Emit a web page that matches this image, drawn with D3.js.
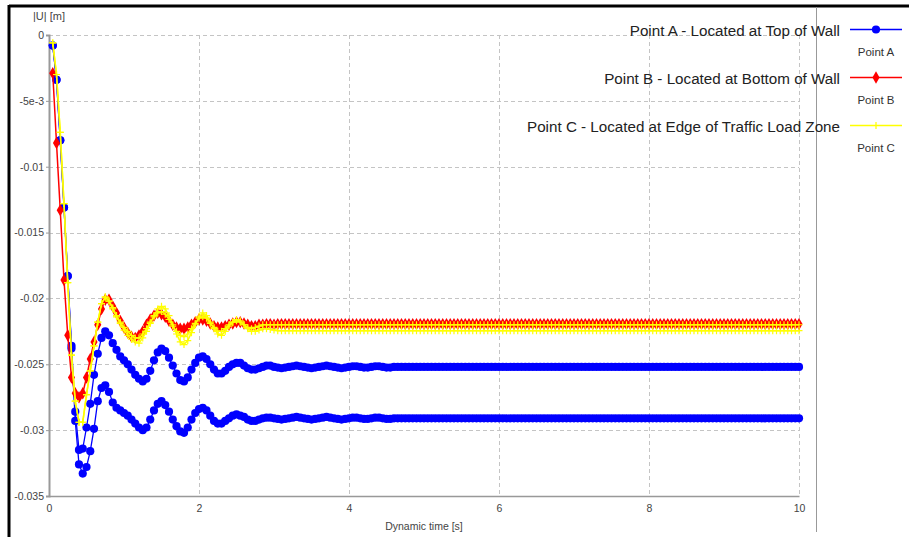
<!DOCTYPE html>
<html>
<head>
<meta charset="utf-8">
<script src="https://cdn.jsdelivr.net/npm/d3@7/dist/d3.min.js"></script>
<style>
  html, body { margin: 0; padding: 0; background: #ffffff; }
  svg { display: block; }
</style>
</head>
<body>
<svg id="chart" width="909" height="537"></svg>
<script>
// ---------------- DATA (displacement in mm, sampled every 0.05 s from t = 0.05 s) ----------------
const timeStep = 0.05;

const xTicks = [0, 2, 4, 6, 8, 10];
const yTicks = [0, -0.005, -0.01, -0.015, -0.02, -0.025, -0.03, -0.035];
const yTickLabels = ["0", "-5e-3", "-0.01", "-0.015", "-0.02", "-0.025", "-0.03", "-0.035"];

const legendNames = [
  "Point A - Located at Top of Wall",
  "Point B - Located at Bottom of Wall",
  "Point C - Located at Edge of Traffic Load Zone"
];
const legendShort = ["Point A", "Point B", "Point C"];

// Point A (upper curve)
const pointA1 = [
  -0.8, -3.4, -8.0, -13.1, -18.3, -23.6, -28.6, -31.5, -31.4, -29.8, -28.0, -25.8, -24.2, -23.0, -22.5, -22.8, -23.4, -23.9, -24.4, -24.7,
  -25.0, -25.4, -25.8, -26.1, -26.3, -26.1, -25.5, -24.7, -24.1, -23.8, -24.0, -24.5, -25.1, -25.7, -26.2, -26.3, -26.0, -25.4, -24.9, -24.5,
  -24.4, -24.6, -25.0, -25.4, -25.7, -25.7, -25.5, -25.2, -25.0, -24.9, -24.9, -25.1, -25.3, -25.4, -25.4, -25.3, -25.2, -25.1, -25.1, -25.2,
  -25.25, -25.3, -25.25, -25.2, -25.15, -25.1, -25.15, -25.2, -25.25, -25.3, -25.25, -25.2, -25.15, -25.1, -25.15, -25.2, -25.25, -25.3, -25.25, -25.2,
  -25.15, -25.15, -25.2, -25.25, -25.25, -25.2, -25.15, -25.15, -25.2, -25.25, -25.25, -25.2, -25.2, -25.2, -25.2, -25.2, -25.2, -25.2, -25.2, -25.2,
  -25.2, -25.2, -25.2, -25.2, -25.2, -25.2, -25.2, -25.2, -25.2, -25.2, -25.2, -25.2, -25.2, -25.2, -25.2, -25.2, -25.2, -25.2, -25.2, -25.2,
  -25.2, -25.2, -25.2, -25.2, -25.2, -25.2, -25.2, -25.2, -25.2, -25.2, -25.2, -25.2, -25.2, -25.2, -25.2, -25.2, -25.2, -25.2, -25.2, -25.2,
  -25.2, -25.2, -25.2, -25.2, -25.2, -25.2, -25.2, -25.2, -25.2, -25.2, -25.2, -25.2, -25.2, -25.2, -25.2, -25.2, -25.2, -25.2, -25.2, -25.2,
  -25.2, -25.2, -25.2, -25.2, -25.2, -25.2, -25.2, -25.2, -25.2, -25.2, -25.2, -25.2, -25.2, -25.2, -25.2, -25.2, -25.2, -25.2, -25.2, -25.2,
  -25.2, -25.2, -25.2, -25.2, -25.2, -25.2, -25.2, -25.2, -25.2, -25.2, -25.2, -25.2, -25.2, -25.2, -25.2, -25.2, -25.2, -25.2, -25.2, -25.2
];

// Point A (lower curve)
const pointA2 = [
  -0.8, -3.4, -8.0, -13.1, -18.3, -23.8, -29.3, -32.6, -33.3, -32.8, -31.6, -29.9, -27.8, -26.8, -26.6, -27.1, -27.9, -28.3, -28.5, -28.7,
  -28.9, -29.2, -29.5, -29.8, -30.0, -29.8, -29.2, -28.5, -28.0, -27.8, -28.1, -28.6, -29.2, -29.7, -30.1, -30.2, -29.8, -29.2, -28.7, -28.4,
  -28.3, -28.5, -28.9, -29.3, -29.5, -29.5, -29.3, -29.1, -28.9, -28.8, -28.9, -29.0, -29.2, -29.3, -29.3, -29.2, -29.1, -29.05, -29.05, -29.1,
  -29.15, -29.2, -29.15, -29.1, -29.05, -29.0, -29.05, -29.1, -29.15, -29.2, -29.15, -29.1, -29.05, -29.0, -29.05, -29.1, -29.15, -29.2, -29.15, -29.1,
  -29.05, -29.05, -29.1, -29.15, -29.15, -29.1, -29.05, -29.05, -29.1, -29.15, -29.15, -29.1, -29.1, -29.1, -29.1, -29.1, -29.1, -29.1, -29.1, -29.1,
  -29.1, -29.1, -29.1, -29.1, -29.1, -29.1, -29.1, -29.1, -29.1, -29.1, -29.1, -29.1, -29.1, -29.1, -29.1, -29.1, -29.1, -29.1, -29.1, -29.1,
  -29.1, -29.1, -29.1, -29.1, -29.1, -29.1, -29.1, -29.1, -29.1, -29.1, -29.1, -29.1, -29.1, -29.1, -29.1, -29.1, -29.1, -29.1, -29.1, -29.1,
  -29.1, -29.1, -29.1, -29.1, -29.1, -29.1, -29.1, -29.1, -29.1, -29.1, -29.1, -29.1, -29.1, -29.1, -29.1, -29.1, -29.1, -29.1, -29.1, -29.1,
  -29.1, -29.1, -29.1, -29.1, -29.1, -29.1, -29.1, -29.1, -29.1, -29.1, -29.1, -29.1, -29.1, -29.1, -29.1, -29.1, -29.1, -29.1, -29.1, -29.1,
  -29.1, -29.1, -29.1, -29.1, -29.1, -29.1, -29.1, -29.1, -29.1, -29.1, -29.1, -29.1, -29.1, -29.1, -29.1, -29.1, -29.1, -29.1, -29.1, -29.1
];

// Point B
const pointB = [
  -2.9, -8.2, -13.3, -18.6, -22.8, -26.0, -27.2, -27.5, -27.2, -26.0, -24.6, -23.3, -22.0, -20.8, -20.1, -20.1, -20.6, -21.1, -21.7, -22.2,
  -22.6, -22.9, -23.0, -22.8, -22.5, -22.0, -21.6, -21.3, -21.1, -21.2, -21.4, -21.7, -22.0, -22.2, -22.3, -22.3, -22.2, -22.0, -21.8, -21.6,
  -21.6, -21.7, -21.9, -22.1, -22.2, -22.2, -22.1, -22.0, -21.9, -21.8, -21.8, -21.9, -22.0, -22.1, -22.1, -22.0, -22.0, -21.95, -21.95, -22.0,
  -21.95, -21.95, -21.95, -21.95, -21.95, -21.95, -21.95, -21.95, -21.95, -21.95, -21.95, -21.95, -21.95, -21.95, -21.95, -21.95, -21.95, -21.95, -21.95, -21.95,
  -21.95, -21.95, -21.95, -21.95, -21.95, -21.95, -21.95, -21.95, -21.95, -21.95, -21.95, -21.95, -21.95, -21.95, -21.95, -21.95, -21.95, -21.95, -21.95, -21.95,
  -21.95, -21.95, -21.95, -21.95, -21.95, -21.95, -21.95, -21.95, -21.95, -21.95, -21.95, -21.95, -21.95, -21.95, -21.95, -21.95, -21.95, -21.95, -21.95, -21.95,
  -21.95, -21.95, -21.95, -21.95, -21.95, -21.95, -21.95, -21.95, -21.95, -21.95, -21.95, -21.95, -21.95, -21.95, -21.95, -21.95, -21.95, -21.95, -21.95, -21.95,
  -21.95, -21.95, -21.95, -21.95, -21.95, -21.95, -21.95, -21.95, -21.95, -21.95, -21.95, -21.95, -21.95, -21.95, -21.95, -21.95, -21.95, -21.95, -21.95, -21.95,
  -21.95, -21.95, -21.95, -21.95, -21.95, -21.95, -21.95, -21.95, -21.95, -21.95, -21.95, -21.95, -21.95, -21.95, -21.95, -21.95, -21.95, -21.95, -21.95, -21.95,
  -21.95, -21.95, -21.95, -21.95, -21.95, -21.95, -21.95, -21.95, -21.95, -21.95, -21.95, -21.95, -21.95, -21.95, -21.95, -21.95, -21.95, -21.95, -21.95, -21.95
];

// Point C (curve settling higher)
const pointC1 = [
  -0.6, -3.0, -7.4, -12.8, -18.8, -24.3, -27.8, -29.4, -29.4, -27.3, -25.5, -23.6, -21.8, -20.4, -19.9, -20.2, -20.7, -21.3, -21.8, -22.2,
  -22.5, -22.8, -23.0, -23.0, -22.7, -22.3, -21.8, -21.4, -21.1, -21.0, -21.2, -21.6, -22.1, -22.5, -22.8, -22.9, -22.7, -22.3, -21.9, -21.5,
  -21.4, -21.5, -21.9, -22.2, -22.5, -22.5, -22.3, -22.0, -21.8, -21.7, -21.8, -22.0, -22.2, -22.3, -22.2, -22.1, -22.0, -22.0, -22.0, -22.0,
  -22.0, -22.0, -22.0, -22.0, -22.0, -22.0, -22.0, -22.0, -22.0, -22.0, -22.0, -22.0, -22.0, -22.0, -22.0, -22.0, -22.0, -22.0, -22.0, -22.0,
  -22.0, -22.0, -22.0, -22.0, -22.0, -22.0, -22.0, -22.0, -22.0, -22.0, -22.0, -22.0, -22.0, -22.0, -22.0, -22.0, -22.0, -22.0, -22.0, -22.0,
  -22.0, -22.0, -22.0, -22.0, -22.0, -22.0, -22.0, -22.0, -22.0, -22.0, -22.0, -22.0, -22.0, -22.0, -22.0, -22.0, -22.0, -22.0, -22.0, -22.0,
  -22.0, -22.0, -22.0, -22.0, -22.0, -22.0, -22.0, -22.0, -22.0, -22.0, -22.0, -22.0, -22.0, -22.0, -22.0, -22.0, -22.0, -22.0, -22.0, -22.0,
  -22.0, -22.0, -22.0, -22.0, -22.0, -22.0, -22.0, -22.0, -22.0, -22.0, -22.0, -22.0, -22.0, -22.0, -22.0, -22.0, -22.0, -22.0, -22.0, -22.0,
  -22.0, -22.0, -22.0, -22.0, -22.0, -22.0, -22.0, -22.0, -22.0, -22.0, -22.0, -22.0, -22.0, -22.0, -22.0, -22.0, -22.0, -22.0, -22.0, -22.0,
  -22.0, -22.0, -22.0, -22.0, -22.0, -22.0, -22.0, -22.0, -22.0, -22.0, -22.0, -22.0, -22.0, -22.0, -22.0, -22.0, -22.0, -22.0, -22.0, -22.0
];

// Point C (curve settling lower)
const pointC2 = [
  -0.6, -3.0, -7.4, -12.8, -18.8, -24.3, -27.8, -29.4, -29.4, -27.3, -25.5, -23.6, -21.8, -20.4, -19.9, -20.2, -20.8, -21.4, -21.9, -22.4,
  -22.8, -23.1, -23.3, -23.4, -23.0, -22.5, -21.9, -21.3, -20.8, -20.6, -20.8, -21.3, -22.0, -22.7, -23.3, -23.5, -23.2, -22.6, -22.0, -21.4,
  -21.1, -21.3, -21.8, -22.3, -22.7, -22.8, -22.5, -22.1, -21.8, -21.6, -21.7, -22.0, -22.3, -22.5, -22.5, -22.4, -22.3, -22.3, -22.35, -22.4,
  -22.45, -22.45, -22.45, -22.45, -22.45, -22.45, -22.45, -22.45, -22.45, -22.45, -22.45, -22.45, -22.45, -22.45, -22.45, -22.45, -22.45, -22.45, -22.45, -22.45,
  -22.45, -22.45, -22.45, -22.45, -22.45, -22.45, -22.45, -22.45, -22.45, -22.45, -22.45, -22.45, -22.45, -22.45, -22.45, -22.45, -22.45, -22.45, -22.45, -22.45,
  -22.45, -22.45, -22.45, -22.45, -22.45, -22.45, -22.45, -22.45, -22.45, -22.45, -22.45, -22.45, -22.45, -22.45, -22.45, -22.45, -22.45, -22.45, -22.45, -22.45,
  -22.45, -22.45, -22.45, -22.45, -22.45, -22.45, -22.45, -22.45, -22.45, -22.45, -22.45, -22.45, -22.45, -22.45, -22.45, -22.45, -22.45, -22.45, -22.45, -22.45,
  -22.45, -22.45, -22.45, -22.45, -22.45, -22.45, -22.45, -22.45, -22.45, -22.45, -22.45, -22.45, -22.45, -22.45, -22.45, -22.45, -22.45, -22.45, -22.45, -22.45,
  -22.45, -22.45, -22.45, -22.45, -22.45, -22.45, -22.45, -22.45, -22.45, -22.45, -22.45, -22.45, -22.45, -22.45, -22.45, -22.45, -22.45, -22.45, -22.45, -22.45,
  -22.45, -22.45, -22.45, -22.45, -22.45, -22.45, -22.45, -22.45, -22.45, -22.45, -22.45, -22.45, -22.45, -22.45, -22.45, -22.45, -22.45, -22.45, -22.45, -22.45
];

// ---------------- DRAWING ----------------
const svg = d3.select("#chart");
const FONT = "'Liberation Sans', Arial, sans-serif";

const x = d3.scaleLinear().domain([0, 10]).range([49, 799]);
const y = d3.scaleLinear().domain([-0.035, 0]).range([496, 35]);

const toPoints = arr => arr.map((v, i) => ({ t: (i + 1) * timeStep, v: v / 1000 }));

const series = [
  { data: toPoints(pointA1), color: "#0000ff", marker: "circle", width: 1.3 },
  { data: toPoints(pointA2), color: "#0000ff", marker: "circle", width: 1.3 },
  { data: toPoints(pointB),  color: "#ff0000", marker: "diamond", width: 1.5 },
  { data: toPoints(pointC2), color: "#ffff00", marker: "plus", width: 1.5 },
  { data: toPoints(pointC1), color: "#ffff00", marker: "plus", width: 1.5 }
];

// Outer frame
svg.append("line").attr("x1", 9).attr("y1", 6).attr("x2", 909).attr("y2", 6)
  .attr("stroke", "#000").attr("stroke-width", 3);
svg.append("line").attr("x1", 9).attr("y1", 5).attr("x2", 9).attr("y2", 537)
  .attr("stroke", "#000").attr("stroke-width", 3);
svg.append("line").attr("x1", 816.5).attr("y1", 7).attr("x2", 816.5).attr("y2", 532)
  .attr("stroke", "#999").attr("stroke-width", 1);

// Grid
const grid = svg.append("g").attr("stroke", "#c4c4c4").attr("stroke-width", 1)
  .attr("stroke-dasharray", "4,3");
grid.selectAll("line.v").data(xTicks.filter(d => d !== 0)).join("line")
  .attr("x1", d => Math.round(x(d)) + 0.5).attr("x2", d => Math.round(x(d)) + 0.5)
  .attr("y1", y(0)).attr("y2", y(-0.035));
grid.selectAll("line.h").data(yTicks.filter(d => d !== -0.035)).join("line")
  .attr("y1", d => Math.round(y(d)) + 0.5).attr("y2", d => Math.round(y(d)) + 0.5)
  .attr("x1", x(0)).attr("x2", x(10));

// Axes
const yAxis = d3.axisLeft(y).tickValues(yTicks)
  .tickFormat((d, i) => yTickLabels[i]).tickSize(3).tickPadding(2);
const gy = svg.append("g").attr("transform", `translate(${x(0)},0)`).call(yAxis);
gy.select(".domain").attr("stroke", "#999").attr("stroke-width", 2);
gy.selectAll(".tick line").attr("stroke", "#999");
gy.selectAll("text").attr("font-family", FONT).attr("font-size", 10.5).attr("fill", "#444");

const xAxis = d3.axisBottom(x).tickValues(xTicks).tickSize(0).tickPadding(9);
const gx = svg.append("g").attr("transform", `translate(0,${y(-0.035)})`).call(xAxis);
gx.select(".domain").attr("stroke", "#999").attr("stroke-width", 1.5);
gx.selectAll("text").attr("font-family", FONT).attr("font-size", 10.5).attr("fill", "#444");

// Axis titles
svg.append("text").attr("x", 49).attr("y", 20).attr("text-anchor", "middle")
  .attr("font-family", FONT).attr("font-size", 11).attr("fill", "#444").text("|U| [m]");
svg.append("text").attr("x", 424).attr("y", 530).attr("text-anchor", "middle")
  .attr("font-family", FONT).attr("font-size", 10.5).attr("fill", "#444").text("Dynamic time [s]");

// Series
const lineGen = d3.line().x(d => x(d.t)).y(d => y(d.v));
const diamond = d3.symbol().type(d3.symbolDiamond).size(44);

function drawMarkers(g, data, s) {
  if (s.marker === "circle") {
    g.selectAll("circle").data(data).join("circle")
      .attr("cx", d => x(d.t)).attr("cy", d => y(d.v)).attr("r", 4.1)
      .attr("fill", s.color);
  } else if (s.marker === "diamond") {
    g.selectAll("path").data(data).join("path")
      .attr("d", diamond)
      .attr("transform", d => `translate(${x(d.t)},${y(d.v)})`)
      .attr("fill", s.color);
  } else {
    g.selectAll("path").data(data).join("path")
      .attr("d", "M-3.5,0H3.5M0,-3.5V3.5")
      .attr("transform", d => `translate(${x(d.t)},${y(d.v)})`)
      .attr("stroke", s.color).attr("stroke-width", 1.2).attr("fill", "none");
  }
}

series.forEach(s => {
  const g = svg.append("g");
  g.append("path").datum(s.data).attr("d", lineGen)
    .attr("fill", "none").attr("stroke", s.color).attr("stroke-width", s.width);
  drawMarkers(g.append("g"), s.data, s);
});

// Legend
const legendRows = [
  { name: legendNames[0], short: legendShort[0], color: "#0000ff", marker: "circle", ly: 29.5 },
  { name: legendNames[1], short: legendShort[1], color: "#ff0000", marker: "diamond", ly: 77.5 },
  { name: legendNames[2], short: legendShort[2], color: "#ffff00", marker: "plus", ly: 125.5 }
];
const lg = svg.append("g");
legendRows.forEach(r => {
  lg.append("text").attr("x", 840).attr("y", r.ly + 6.5).attr("text-anchor", "end")
    .attr("font-family", FONT).attr("font-size", 15.2).attr("fill", "#222").text(r.name);
  lg.append("line").attr("x1", 850).attr("x2", 902).attr("y1", r.ly).attr("y2", r.ly)
    .attr("stroke", r.color).attr("stroke-width", 1.5);
  const mg = lg.append("g");
  drawMarkers(mg, [{ t: x.invert(876), v: y.invert(r.ly) }], { marker: r.marker, color: r.color });
  lg.append("text").attr("x", 876).attr("y", r.ly + 26.5).attr("text-anchor", "middle")
    .attr("font-family", FONT).attr("font-size", 11.5).attr("fill", "#333").text(r.short);
});
</script>
</body>
</html>
